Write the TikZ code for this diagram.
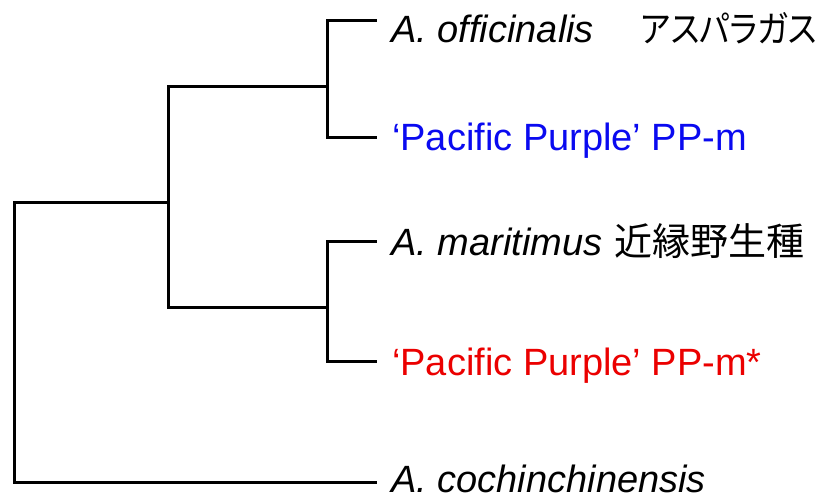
\documentclass[tikz,border=0pt]{standalone}
\usepackage{fontspec}
\setmainfont{Liberation Sans}
\newfontfamily\jpkanji{Noto Sans CJK JP}
\newfontfamily\jpkana[RawFeature=+palt,FakeStretch=0.88]{Noto Sans CJK JP}
\definecolor{cultblue}{RGB}{10,10,240}
\definecolor{cultred}{RGB}{235,0,0}
\begin{document}
\begin{tikzpicture}[x=1pt,y=-1pt,
  branch/.style={line width=3pt,line cap=rect,line join=miter},
  taxon/.style={anchor=base west,inner sep=0pt,font=\fontsize{38}{40}\selectfont}]
\useasboundingbox (0,0) rectangle (819,499);
% leaf tips
\coordinate (t1) at (375,20);
\coordinate (t2) at (375,137);
\coordinate (t3) at (375,241);
\coordinate (t4) at (375,361);
\coordinate (t5) at (375,482);
% internal nodes
\coordinate (c1) at (327,86);
\coordinate (c2) at (327,307);
\coordinate (b)  at (168,202);
\coordinate (r)  at (14,202);
% taxon labels
\node[taxon] (l1) at (391,42) {\textit{A. officinalis}\hspace{47pt}{\jpkana\fontsize{36.5}{40}\selectfont アスパラガス}};
\node[taxon,text=cultblue] (l2) at (392,150) {‘Pacific Purple’ PP-m};
\node[taxon] (l3) at (391,255) {\textit{A. maritimus}\hspace{12pt}{\jpkanji 近縁野生種}};
\node[taxon,text=cultred] (l4) at (392,375) {‘Pacific Purple’ PP-m*};
\node[taxon] (l5) at (391,492) {\textit{A. cochinchinensis}};
% branches
\draw[branch] (t1) -| (c1) |- (t2);
\draw[branch] (t3) -| (c2) |- (t4);
\draw[branch] (c1) -| (b) |- (c2);
\draw[branch] (b) -- (r) |- (t5);
\end{tikzpicture}
\end{document}
